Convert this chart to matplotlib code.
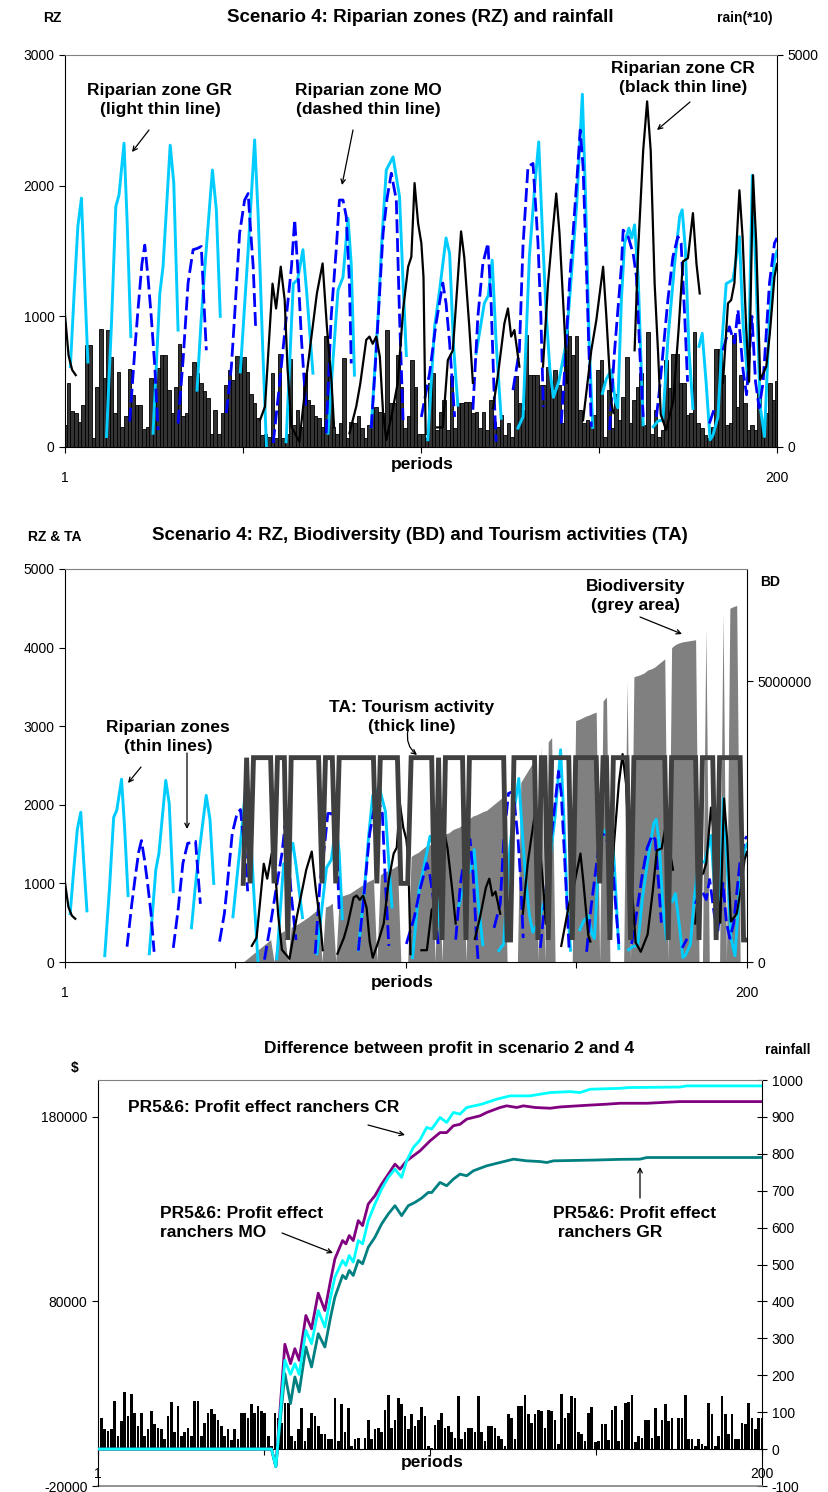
import numpy as np
import matplotlib
matplotlib.use("Agg")
import matplotlib.pyplot as plt
from matplotlib.patches import FancyArrowPatch

plt.rcParams['font.family'] = ['Liberation Sans', 'DejaVu Sans']
plt.rcParams['axes.unicode_minus'] = False

W, H = 829, 1492

# ---------------- data ----------------
periods = np.arange(1, 201)

# rainfall shown in the first chart (plotted *10)
rain_a = [28, 82, 46, 44, 32, 54, 130, 130, 11, 76, 150, 88, 149, 115, 43, 96, 26, 39, 100, 66,
          54, 54, 23, 26, 88, 64, 101, 117, 117, 73, 43, 76, 131, 39, 43, 90, 109, 94, 81, 71,
          62, 17, 47, 17, 43, 79, 98, 85, 116, 109, 115, 96, 68, 56, 37, 15, 17, 13, 94, 11,
          118, 11, 17, 112, 28, 47, 26, 94, 60, 54, 39, 37, 26, 141, 90, 26, 17, 30, 113, 11,
          32, 30, 39, 24, 11, 28, 49, 51, 45, 43, 149, 56, 56, 117, 77, 24, 39, 111, 77, 17,
          17, 11, 81, 94, 22, 45, 60, 22, 90, 24, 56, 56, 58, 58, 43, 45, 24, 45, 22, 60,
          32, 26, 41, 15, 30, 13, 91, 56, 47, 143, 92, 92, 92, 79, 79, 102, 75, 98, 79, 30,
          149, 141, 117, 141, 47, 30, 34, 30, 41, 98, 111, 13, 73, 24, 68, 34, 64, 115, 30, 60,
          77, 94, 28, 147, 17, 47, 13, 22, 111, 75, 119, 119, 81, 81, 41, 43, 147, 30, 24, 15,
          11, 26, 125, 125, 92, 28, 30, 143, 51, 92, 56, 22, 28, 22, 69, 28, 43, 81, 60, 84]

# rainfall shown in the profit chart
rain_b = [128, 85, 54, 49, 55, 131, 36, 76, 154, 89, 150, 98, 62, 98, 36, 55, 103, 67, 58, 54,
          27, 89, 127, 45, 118, 36, 45, 58, 36, 131, 131, 36, 71, 98, 109, 94, 80, 62, 36, 55,
          25, 54, 27, 98, 98, 85, 121, 98, 116, 103, 98, 36, 9, 98, 85, 71, 125, 125, 36, 22,
          54, 112, 22, 58, 98, 89, 62, 40, 40, 27, 27, 138, 22, 121, 45, 112, 9, 27, 31, 0,
          29, 80, 27, 55, 58, 45, 107, 147, 58, 80, 138, 121, 89, 54, 94, 62, 80, 114, 89, 9,
          4, 64, 80, 98, 58, 62, 45, 29, 145, 27, 45, 58, 58, 45, 145, 45, 22, 62, 62, 58,
          36, 27, 9, 94, 85, 27, 116, 118, 147, 94, 71, 94, 107, 103, 58, 107, 103, 80, 13, 150,
          85, 98, 143, 138, 45, 40, 22, 98, 114, 18, 22, 67, 67, 25, 107, 116, 22, 80, 125, 127,
          147, 18, 36, 31, 80, 80, 31, 112, 36, 80, 121, 76, 85, 0, 85, 85, 147, 27, 27, 9,
          27, 13, 9, 125, 94, 9, 36, 143, 94, 40, 94, 27, 27, 71, 67, 125, 85, 54, 85, 85]

# riparian zones: segments of (period, value); gaps between segments
rz_gr = [
    [(2.5, 615), (3.6, 1200), (4.6, 1690), (5.6, 1905), (6.5, 1250), (7.4, 650)],
    [(12.6, 80), (14, 950), (15.2, 1840), (16.1, 1930), (17.5, 2325), (18.4, 1700), (19.4, 845)],
    [(25.6, 105), (27.5, 1175), (28.4, 1380), (30.4, 2310), (31.4, 2020), (32.6, 895)],
    [(37.9, 435), (39, 950), (40.1, 1380), (42.2, 2120), (43.3, 1815), (44.4, 1000)],
    [(50, 575), (51, 1000), (52.2, 1510), (54, 2350), (55, 1765), (56.2, 800), (57.3, 10)],
    [(62.8, 40), (64.8, 1250), (66, 1280), (67.5, 1510), (68.5, 1200), (70.3, 565)],
    [(74.5, 105), (76, 700), (77.3, 1200), (78.7, 1300), (80.1, 1750), (81, 1400), (81.9, 550)],
    [(86.6, 155), (88.5, 1000), (89.6, 1600), (90.8, 2120), (92.7, 2220), (94.5, 1915),
     (95.5, 1250), (96.4, 700)],
    [(102.4, 55), (104.3, 920), (105.7, 1200), (107.5, 1600), (108.5, 1480), (109.6, 770),
     (110.8, 320)],
    [(115.9, 715), (118.2, 1100), (119.3, 1160), (120.4, 1430), (121.5, 800), (122.9, 220)],
    [(127.6, 145), (129, 230), (130.8, 1460), (132.3, 2000), (133.4, 2335), (134.5, 1600),
     (135.5, 1020), (136.5, 600), (137.5, 380), (139, 500), (141.1, 800), (142.5, 1300),
     (144, 1850), (145.6, 2700), (146.5, 1900), (147.5, 800), (148.5, 150)],
    [(151.2, 410), (152.3, 520), (153.7, 590), (154.8, 350), (155.5, 300), (156.5, 1125),
     (157.4, 1560), (158.6, 1675), (159.4, 1600), (160.2, 1700), (161.2, 1300), (162.6, 170)],
    [(165.4, 155), (166.8, 200), (168.1, 205), (169.5, 820), (171.4, 1405), (172.8, 1765),
     (173.5, 1815), (174.4, 1510), (175.4, 740), (176.5, 295)],
    [(178.2, 770), (179.1, 870), (180.2, 490), (181.3, 55), (182.1, 90), (183.5, 230),
     (184.6, 800), (185.8, 1250), (187.7, 1280), (189.5, 1610), (190.5, 945), (191.9, 490),
     (193.1, 2080), (194.2, 1250), (195.3, 310), (196.5, 80), (197.9, 1000), (199.3, 1430),
     (200, 1500)],
]

rz_mo = [
    [(19.1, 195), (20.5, 740), (21.4, 1050), (22.5, 1400), (23.3, 1545), (24.2, 1300),
     (25.1, 1000), (26.1, 615), (27, 130)],
    [(32.6, 180), (33.3, 420), (34, 665), (35.4, 1255), (36.8, 1510), (38, 1520), (39.1, 1535),
     (39.8, 1125), (40.5, 740)],
    [(46.1, 260), (47.5, 615), (48.4, 1000), (49.8, 1635), (51.2, 1890), (52.2, 1940),
     (52.6, 1765), (53.6, 1380), (54.3, 900)],
    [(59.2, 30), (61, 490), (62.5, 900), (64.3, 1380), (65.2, 1740), (66.2, 1300), (67.1, 820),
     (68.4, 280)],
    [(74, 105), (75.4, 1000), (76.8, 1510), (77.7, 1890), (78.7, 1890), (79.6, 1765),
     (80.5, 1255), (81, 640)],
    [(86.6, 145), (88, 740), (89.9, 1635), (91, 1900), (92.2, 2095), (93.6, 1890), (94.5, 1000),
     (95.5, 205)],
    [(100.6, 230), (102.9, 565), (104.7, 945), (106.6, 1255), (107.5, 1100), (108.5, 795),
     (109.9, 230)],
    [(115, 285), (116.4, 1000), (117.8, 1405), (119.2, 1560), (120.1, 1100), (121, 360),
     (121.5, 40)],
    [(126.2, 435), (128, 740), (129, 1535), (130.4, 2145), (131.8, 2170), (133.2, 1560),
     (134, 1000), (134.7, 305)],
    [(139.7, 180), (140.7, 615), (142, 1255), (144, 2020), (145, 2425), (145.8, 2145),
     (146.8, 1300), (148.1, 155)],
    [(153.2, 130), (154.5, 700), (156.5, 1380), (157, 1660), (158.4, 1610), (159.8, 1480),
     (160.7, 1305), (161.7, 700), (162.6, 230)],
    [(166.3, 230), (167.2, 450), (168.1, 715), (169.5, 1125), (170.9, 1455), (172.3, 1610),
     (173.2, 1560), (174.2, 1000), (175, 500)],
    [(181.1, 180), (182.5, 295)],
    [(184.9, 740), (186.7, 920), (188.1, 795), (189.1, 1050), (190.5, 590), (191.5, 400),
     (193, 1000), (194, 500), (195, 300), (196.1, 490), (197.9, 1255), (199.3, 1560),
     (200, 1600)],
]

rz_cr = [
    [(1, 1010), (2, 700), (3, 590), (4, 550)],
    [(55.5, 205), (56.9, 310), (59, 1250), (60, 1060), (61.3, 1380), (62.4, 1125), (63.2, 600),
     (64.3, 155), (66.5, 40), (68.6, 565), (71.4, 1175), (73, 1405), (74.2, 920), (75.5, 500),
     (76.2, 150)],
    [(80.5, 105), (82.4, 310), (83.5, 480), (85.2, 820), (86.1, 845), (87, 790), (88, 845),
     (89, 690), (89.9, 260), (90.8, 55), (92.2, 230), (94, 490), (95.5, 1050), (96.9, 1380),
     (97.8, 1455), (98.7, 2020), (99.7, 1710), (100.6, 1560), (101.2, 1300), (101.8, 100)],
    [(105, 150), (106.6, 150), (108, 665), (109.4, 740), (111.7, 1650), (112.6, 1450),
     (114, 920), (115, 490)],
    [(120.6, 295), (122, 550), (123.8, 945), (124.8, 1060), (125.7, 845), (126.6, 895),
     (128, 615)],
    [(134.6, 615), (136, 1250), (137, 1560), (138.3, 1940), (139.2, 1640), (140.7, 870),
     (141.3, 490)],
    [(145.8, 205), (148.1, 740), (149.5, 970), (151.4, 1380), (152.3, 1000), (153.7, 335),
     (154.3, 260)],
    [(160.2, 740), (161.2, 1510), (162.6, 2270), (163.7, 2645), (164.7, 2270), (165.8, 1250),
     (166.8, 700), (167.5, 250), (169, 130), (171, 350), (172.5, 900), (173.7, 1420),
     (175.1, 1445), (176.5, 1790), (177.5, 1400), (178.4, 1175)],
    [(184.9, 490), (186.3, 1100), (187.2, 1125), (188.1, 1255), (189.5, 1965), (190.4, 1600),
     (191.4, 900), (192.2, 500), (193.3, 2080), (194.2, 1560), (195.3, 515), (197, 615),
     (198, 870), (199.3, 1305), (200, 1400)],
]

# tourism activity and biodiversity, periods 53..200
ta_periods = np.arange(53, 201)
ta = [1000, 2600, 1000, 2600, 2600, 2600, 2600, 2600, 2600, 1000,
      2600, 2600, 2600, 280, 2600, 2600, 2600, 2600, 2600, 2600,
      2600, 2600, 2600, 1000, 2600, 2600, 2600, 1000, 2600, 2600,
      2600, 2600, 2600, 2600, 2600, 2600, 2600, 2600, 2600, 1000,
      2600, 2600, 2600, 2600, 2600, 2600, 1000, 1000, 1000, 2600,
      2600, 2600, 2600, 2600, 2600, 2600, 280, 2600, 280, 2600,
      2600, 2600, 2600, 2600, 2600, 280, 2600, 2600, 2600, 2600,
      2600, 2600, 2600, 2600, 2600, 2600, 2600, 280, 280, 2600,
      2600, 2600, 2600, 2600, 2600, 2600, 280, 2600, 2600, 280,
      2600, 2600, 2600, 2600, 2600, 2600, 280, 2600, 2600, 2600,
      2600, 2600, 2600, 2600, 1000, 2600, 2600, 280, 2600, 2600,
      2600, 2600, 2600, 280, 2600, 2600, 2600, 2600, 2600, 2600,
      2600, 2600, 2600, 2600, 280, 2600, 2600, 2600, 2600, 2600,
      2600, 2600, 2600, 280, 2600, 2600, 2600, 2600, 280, 2600,
      2600, 2600, 2600, 2600, 2600, 2600, 280, 280]

bd_mill = [0, 0.05, 0.1, 0.15, 0.2, 0.25, 0.3, 0.35, 0.4, 0,
           0.48, 0.52, 0.56, 0, 0.62, 0.65, 0.68, 0.72, 0.76, 0.8,
           0.85, 0.9, 0.92, 0, 0.98, 1.0, 1.05, 0, 1.12, 1.18,
           1.2, 1.22, 1.26, 1.3, 1.34, 1.38, 1.42, 1.45, 1.48, 0,
           1.55, 1.6, 1.62, 1.65, 1.68, 1.72, 0, 0, 0, 1.88,
           1.92, 1.95, 2.0, 2.05, 2.08, 2.1, 0, 2.2, 0, 2.28,
           2.3, 2.35, 2.38, 2.4, 2.45, 0, 2.55, 2.6, 2.62, 2.65,
           2.68, 2.7, 2.75, 2.8, 2.85, 2.9, 2.95, 0, 0, 0,
           0, 3.2, 3.3, 3.4, 3.5, 3.6, 0, 3.85, 0, 3.92,
           4.0, 0, 0, 0, 0, 0, 0, 4.3, 4.32, 4.35,
           4.38, 4.4, 4.43, 4.45, 0, 4.65, 4.72, 0, 0, 0,
           0, 0, 5.0, 0, 5.08, 5.1, 5.12, 5.15, 5.2, 5.22,
           5.25, 5.3, 5.35, 5.4, 0, 5.6, 5.65, 5.68, 5.7, 5.71,
           5.72, 5.73, 5.74, 0, 0, 5.95, 0, 0, 0, 0,
           6.2, 0, 6.3, 6.33, 6.35, 0, 0, 0]

# profit differences ($), vertices (period, value)
profit_mo = [(1, 0), (53, 0), (54.3, -9500), (57, 56800), (58.7, 46300), (60, 54400),
             (61.3, 48100), (63.3, 72400), (65, 65200), (67, 84500), (69, 75100), (70.7, 91400),
             (72, 103100), (74.3, 113000), (75.3, 111200), (76.3, 115700), (77.5, 113000),
             (79, 123800), (80.3, 121100), (82, 132800), (84, 137300), (86, 143600),
             (88, 149000), (90, 154400), (91.5, 151700), (93.5, 156200), (95.5, 158900),
             (97.5, 161600), (100.5, 167000), (103.5, 171500), (105.5, 171500),
             (107.5, 175200), (109.5, 176000), (111.5, 178800), (115.5, 180600),
             (117.5, 182400), (121.5, 185100), (123.5, 186000), (126.5, 185100),
             (128.5, 186000), (132, 185100), (136.5, 184700), (139.5, 185400),
             (147.5, 186300), (153.5, 186900), (157.5, 187400), (165.5, 187400),
             (175.4, 188300), (200, 188300)]
profit_cr = [(1, 0), (53, 0), (54.3, -9500), (57, 48100), (58.7, 40500), (60, 46300),
             (61.3, 40500), (63.3, 64300), (65, 57100), (67, 75100), (69, 66100), (70.7, 82400),
             (72, 93200), (74.3, 102200), (75.3, 99500), (76.3, 104900), (77.5, 101300),
             (79, 113000), (80.3, 111200), (82, 123800), (84, 132800), (86, 140900),
             (88, 147200), (90, 151700), (92, 147200), (93.5, 156200), (95.5, 163400),
             (97.5, 167500), (99.5, 174300), (101, 173400), (103.5, 179700), (105.5, 177000),
             (107.5, 182400), (109.5, 181500), (111.5, 185100), (116, 186900),
             (120.5, 189600), (124.5, 191400), (130.5, 191400), (136.5, 193200),
             (142.5, 193700), (145.5, 193200), (148.5, 195000), (157.5, 195500),
             (160, 195900), (175.4, 196200), (177.4, 196800), (200, 196800)]
profit_gr = [(1, 0), (53, 0), (54.3, -9500), (57, 40900), (58.7, 24700), (60, 39100),
             (61.3, 31000), (63.3, 55300), (65, 44500), (67, 62500), (69, 55300), (70.7, 71500),
             (72, 82400), (74.3, 94100), (75.3, 92300), (76.3, 96800), (77.5, 94100),
             (79, 102200), (80.3, 100400), (82, 109400), (84, 114800), (86, 122000),
             (88, 127400), (90, 131900), (92, 126500), (94, 131900), (96, 133700),
             (98, 136000), (100, 139100), (101, 139000), (103.5, 144500), (105.5, 142700),
             (107.5, 146300), (109.5, 149000), (111.5, 148100), (113.5, 150800),
             (117.5, 153500), (121.5, 155300), (125.5, 157100), (129.5, 156200),
             (133.5, 155800), (135.5, 155300), (137.5, 156200), (149.5, 156600),
             (157.5, 157000), (163.4, 157100), (165.5, 158000), (200, 158000)]

x_ticks = [1, 50.75, 100.5, 150.25, 200]
x_ticklabels = ['1', '', '', '', '200']


def seg_xy(segments):
    xs, ys = [], []
    for s in segments:
        xs += [p for p, v in s] + [np.nan]
        ys += [v for p, v in s] + [np.nan]
    return np.array(xs), np.array(ys)


def px(x, y):
    return (x / W, 1 - y / H)


def frame(ax, twin):
    ax.set_zorder(twin.get_zorder() + 1)
    ax.patch.set_visible(False)
    for s in ['top', 'left', 'right', 'bottom']:
        twin.spines[s].set_visible(False)
    twin.spines['right'].set_visible(True)
    ax.spines['right'].set_visible(False)
    ax.spines['top'].set_color('#808080')
    for a in (ax, twin):
        a.tick_params(labelsize=10, length=4, width=0.8)


def draw_rz(ax):
    x, y = seg_xy(rz_gr)
    ax.plot(x, y, color='#00CCFF', lw=2.1, zorder=3)
    x, y = seg_xy(rz_mo)
    ax.plot(x, y, color='#0000FF', lw=2.0, dashes=(5, 1.8), zorder=3)
    x, y = seg_xy(rz_cr)
    ax.plot(x, y, color='black', lw=1.6, zorder=4)


def arr(p0, p1, **kw):
    fig.add_artist(FancyArrowPatch(px(*p0), px(*p1), transform=fig.transFigure,
                                   arrowstyle='->', color='black', lw=0.9,
                                   shrinkA=0, shrinkB=0, mutation_scale=8, **kw))


bold = dict(fontweight='bold', ha='center', va='center')
note = dict(fontsize=12.5, linespacing=1.3, fontweight='bold', va='center')

fig = plt.figure(figsize=(W / 100, H / 100), dpi=100)

# ---------------- chart 1 ----------------
ax1 = fig.add_axes([65 / W, 1 - 447 / H, 712 / W, 392 / H])
tw1 = ax1.twinx()
tw1.bar(periods, np.array(rain_a) * 10, width=1.0, color='#333333', edgecolor='black', lw=0.6)
tw1.set_ylim(0, 5000)
tw1.set_yticks([0, 5000])
draw_rz(ax1)
ax1.set_ylim(0, 3000)
ax1.set_yticks([0, 1000, 2000, 3000])
for a in (ax1, tw1):
    a.set_xlim(1, 200)
ax1.set_xticks(x_ticks)
ax1.set_xticklabels(x_ticklabels)
frame(ax1, tw1)
ax1.tick_params(axis='x', pad=13)

fig.text(*px(420, 18), 'Scenario 4: Riparian zones (RZ) and rainfall', fontsize=13.5, **bold)
fig.text(*px(52, 18), 'RZ', fontsize=10, **bold)
fig.text(*px(745, 18), 'rain(*10)', fontsize=10, **bold)
fig.text(*px(422, 464), 'periods', fontsize=12.5, **bold)
fig.text(*px(160, 100), 'Riparian zone GR\n(light thin line)', ha='center', **note)
fig.text(*px(368, 100), 'Riparian zone MO\n(dashed thin line)', ha='center', **note)
fig.text(*px(683, 78), 'Riparian zone CR\n(black thin line)', ha='center', **note)
arr((149, 130), (132, 152))
arr((353, 130), (342, 185))
arr((690, 102), (657, 130))

# ---------------- chart 2 ----------------
ax2 = fig.add_axes([65 / W, 1 - 962 / H, 682 / W, 393 / H])
tw2 = ax2.twinx()
tw2.fill_between(ta_periods, np.array(bd_mill) * 1e6, 0, color='#808080', lw=0)
tw2.set_ylim(0, 7e6)
tw2.set_yticks([0, 5e6])
tw2.set_yticklabels(['0', '5000000'])
draw_rz(ax2)
ax2.plot(ta_periods, ta, color='#404040', lw=3.5, zorder=5, solid_joinstyle='miter')
ax2.set_ylim(0, 5000)
ax2.set_yticks([0, 1000, 2000, 3000, 4000, 5000])
for a in (ax2, tw2):
    a.set_xlim(1, 200)
ax2.set_xticks(x_ticks)
ax2.set_xticklabels(x_ticklabels)
frame(ax2, tw2)
ax2.tick_params(axis='x', pad=13)

fig.text(*px(420, 536), 'Scenario 4: RZ, Biodiversity (BD) and Tourism activities (TA)', fontsize=13.5, **bold)
fig.text(*px(55, 537), 'RZ & TA', fontsize=10, **bold)
fig.text(*px(770, 582), 'BD', fontsize=10, **bold)
fig.text(*px(402, 983), 'periods', fontsize=12.5, **bold)
fig.text(*px(168, 737), 'Riparian zones\n(thin lines)', ha='center', **note)
fig.text(*px(412, 717), 'TA: Tourism activity\n(thick line)', ha='center', **note)
fig.text(*px(636, 596), 'Biodiversity\n(grey area)', ha='center', **note)
arr((141, 767), (128, 783))
arr((187, 753), (187, 829))
arr((408, 730), (417, 755), connectionstyle='arc3,rad=0.3')
arr((640, 617), (682, 634))

# ---------------- chart 3 ----------------
ax3 = fig.add_axes([98 / W, 1 - 1486 / H, 664 / W, 406 / H])
tw3 = ax3.twinx()
tw3.bar(periods, rain_b, width=0.8, color='black', lw=0)
tw3.set_ylim(-100, 1000)
tw3.set_yticks(np.arange(-100, 1001, 100))
for pr, col in [(profit_gr, '#008080'), (profit_mo, '#800080'), (profit_cr, '#00FFFF')]:
    ax3.plot([p for p, v in pr], [v for p, v in pr], color=col, lw=2.0, zorder=3)
ax3.set_ylim(-20000, 200000)
ax3.set_yticks([-20000, 80000, 180000])
for a in (ax3, tw3):
    a.set_xlim(1, 200)
ax3.set_xticks(x_ticks)
ax3.set_xticklabels(x_ticklabels)
frame(ax3, tw3)
ax3.spines['bottom'].set_position(('data', 0))
ax3.plot([0, 1], [0, 0], transform=ax3.transAxes, color='#808080', lw=1.2, clip_on=False)
ax3.tick_params(axis='x', pad=9)
tw3.tick_params(axis='y', direction='inout', length=7)

fig.text(*px(449, 1048), 'Difference between profit in scenario 2 and 4', fontsize=12.5, **bold)
fig.text(*px(75, 1068), '$', fontsize=10, **bold)
fig.text(*px(788, 1050), 'rainfall', fontsize=10, **bold)
fig.text(*px(432, 1462), 'periods', fontsize=12.5, **bold)
fig.text(*px(128, 1108), 'PR5&6: Profit effect ranchers CR', ha='left', **note)
fig.text(*px(160, 1223), 'PR5&6: Profit effect\nranchers MO', ha='left', **note)
fig.text(*px(553, 1223), 'PR5&6: Profit effect\n ranchers GR', ha='left', **note)
arr((368, 1125), (405, 1135))
arr((282, 1233), (333, 1253))
arr((640, 1198), (640, 1167))

fig.savefig('out.png', dpi=100, facecolor='white')
